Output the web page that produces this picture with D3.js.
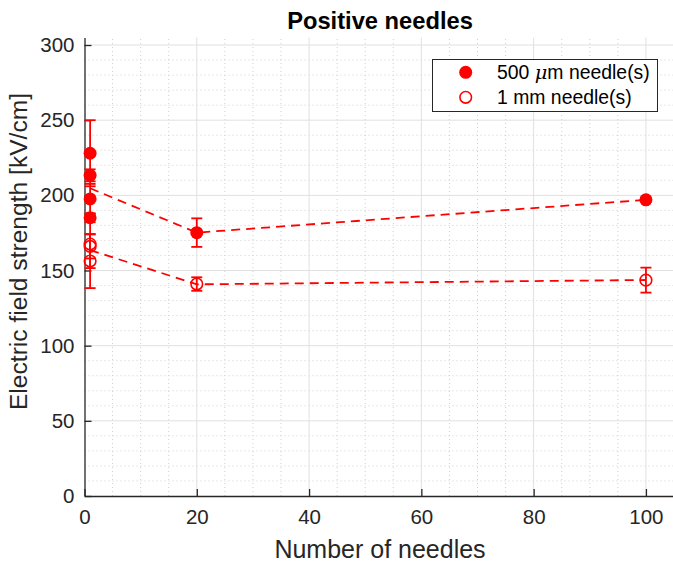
<!DOCTYPE html>
<html>
<head>
<meta charset="utf-8">
<script src="https://cdn.jsdelivr.net/npm/d3@7/dist/d3.min.js"></script>
<style>
  html, body { margin: 0; padding: 0; background: #fff; }
  svg { display: block; font-family: "Liberation Sans", Arial, Helvetica, sans-serif; }
</style>
</head>
<body>
<svg id="chart" width="673" height="564"></svg>
<script>
// Individual measurements, 500 µm needles
const x500 = [1, 1, 1, 1, 20, 100];
const y500 = [228, 213.3, 197.6, 185.1, 175.2, 197];
const e500 = [22, 4, 10, 3, 9.5, 1.5];

// Individual measurements, 1 mm needles
const x1mm = [1, 1, 1, 20, 100];
const y1mm = [167.6, 166, 156.3, 141, 143.6];
const e1mm = [16, 8, 18, 4.5, 8.3];

// Mean per needle count (dashed trend lines)
const meanX = [1, 20, 100];
const mean500 = [204.7, 175.2, 197];
const mean1mm = [163.6, 140.8, 143.7];

const xTicks = [0, 20, 40, 60, 80, 100];
const yTicks = [0, 50, 100, 150, 200, 250, 300];

(function draw() {
  const svg = d3.select("#chart");
  const textColor = "#262626";
  const red = "#ff0000";

  const mLeft = 84.5, mRight = 674, mTop = 37.5, mBottom = 496;
  const x = d3.scaleLinear().domain([0, 105]).range([mLeft, mRight]);
  const y = d3.scaleLinear().domain([0, 305]).range([mBottom, mTop]);

  // Minor grid (dotted)
  const grid = svg.append("g");
  d3.range(5, 105, 5).filter(v => v % 20 !== 0).forEach(v => {
    grid.append("line").attr("x1", x(v)).attr("x2", x(v)).attr("y1", y(0)).attr("y2", y(305))
      .attr("stroke", "#cfcfcf").attr("stroke-width", 1).attr("stroke-dasharray", "1,3");
  });
  d3.range(10, 305, 10).filter(v => v % 50 !== 0).forEach(v => {
    grid.append("line").attr("x1", x(0)).attr("x2", x(105)).attr("y1", y(v)).attr("y2", y(v))
      .attr("stroke", "#cfcfcf").attr("stroke-width", 1).attr("stroke-dasharray", "1,3");
  });
  // Major grid
  xTicks.slice(1).forEach(v => {
    grid.append("line").attr("x1", x(v)).attr("x2", x(v)).attr("y1", y(0)).attr("y2", y(305))
      .attr("stroke", "#e0e0e0").attr("stroke-width", 1);
  });
  yTicks.slice(1).forEach(v => {
    grid.append("line").attr("x1", x(0)).attr("x2", x(105)).attr("y1", y(v)).attr("y2", y(v))
      .attr("stroke", "#e0e0e0").attr("stroke-width", 1);
  });

  // Axes with inward ticks
  const xAxis = svg.append("g").attr("transform", `translate(0,${mBottom})`)
    .call(d3.axisBottom(x).tickValues(xTicks).tickSize(-7).tickPadding(13).tickSizeOuter(0));
  const yAxis = svg.append("g").attr("transform", `translate(${mLeft},0)`)
    .call(d3.axisLeft(y).tickValues(yTicks).tickSize(-7).tickPadding(10).tickSizeOuter(0));
  [xAxis, yAxis].forEach(a => {
    a.select(".domain").attr("stroke", textColor).attr("stroke-width", 1.3);
    a.selectAll(".tick line").attr("stroke", textColor).attr("stroke-width", 1.3);
    a.selectAll(".tick text").attr("fill", textColor).style("font-size", "20.5px")
      .style("font-family", "'Liberation Sans', Arial, sans-serif");
  });
  xAxis.selectAll(".tick text").attr("dy", "0.71em");

  // Dashed mean lines
  const line = d3.line().x(d => x(d[0])).y(d => y(d[1]));
  [mean500, mean1mm].forEach(m => {
    svg.append("path").datum(meanX.map((v, i) => [v, m[i]]))
      .attr("d", line).attr("fill", "none").attr("stroke", red)
      .attr("stroke-width", 1.8).attr("stroke-dasharray", "9,6");
  });

  // Error bars
  function errorBars(xs, ys, es) {
    const g = svg.append("g").attr("stroke", red).attr("stroke-width", 1.8);
    xs.forEach((xv, i) => {
      const cx = x(xv), y1 = y(ys[i] + es[i]), y2 = y(ys[i] - es[i]);
      g.append("line").attr("x1", cx).attr("x2", cx).attr("y1", y1).attr("y2", y2);
      g.append("line").attr("x1", cx - 5.5).attr("x2", cx + 5.5).attr("y1", y1).attr("y2", y1);
      g.append("line").attr("x1", cx - 5.5).attr("x2", cx + 5.5).attr("y1", y2).attr("y2", y2);
    });
  }
  errorBars(x500, y500, e500);
  errorBars(x1mm, y1mm, e1mm);

  // Markers
  svg.append("g").selectAll("circle").data(x500.map((v, i) => [v, y500[i]])).join("circle")
    .attr("cx", d => x(d[0])).attr("cy", d => y(d[1])).attr("r", 6.5).attr("fill", red);
  svg.append("g").selectAll("circle").data(x1mm.map((v, i) => [v, y1mm[i]])).join("circle")
    .attr("cx", d => x(d[0])).attr("cy", d => y(d[1])).attr("r", 5.8)
    .attr("fill", "none").attr("stroke", red).attr("stroke-width", 1.6);

  // Title and axis labels
  svg.append("text").attr("x", 380).attr("y", 29).attr("text-anchor", "middle")
    .attr("fill", "#000").style("font-size", "23.7px").style("font-weight", "bold")
    .text("Positive needles");
  svg.append("text").attr("x", 380).attr("y", 558).attr("text-anchor", "middle")
    .attr("fill", textColor).style("font-size", "25px").text("Number of needles");
  svg.append("text").attr("transform", "translate(27,251.5) rotate(-90)").attr("text-anchor", "middle")
    .attr("fill", textColor).style("font-size", "24.6px").text("Electric field strength [kV/cm]");

  // Legend
  const lg = svg.append("g");
  lg.append("rect").attr("x", 432.5).attr("y", 59.5).attr("width", 225).attr("height", 52)
    .attr("fill", "#fff").attr("stroke", textColor).attr("stroke-width", 1);
  lg.append("circle").attr("cx", 465.7).attr("cy", 72.3).attr("r", 6.5).attr("fill", red);
  lg.append("circle").attr("cx", 465.7).attr("cy", 97.3).attr("r", 5.8)
    .attr("fill", "none").attr("stroke", red).attr("stroke-width", 1.6);
  const t1 = lg.append("text").attr("x", 497).attr("y", 78.8).attr("fill", "#000").style("font-size", "19.4px");
  t1.append("tspan").text("500 ");
  t1.append("tspan").style("font-style", "italic").style("font-family", "'DejaVu Serif', 'Liberation Serif', serif").text("\u03bc");
  t1.append("tspan").text("m needle(s)");
  lg.append("text").attr("x", 497).attr("y", 103.8).attr("fill", "#000").style("font-size", "19.4px")
    .text("1 mm needle(s)");
})();
</script>
</body>
</html>
